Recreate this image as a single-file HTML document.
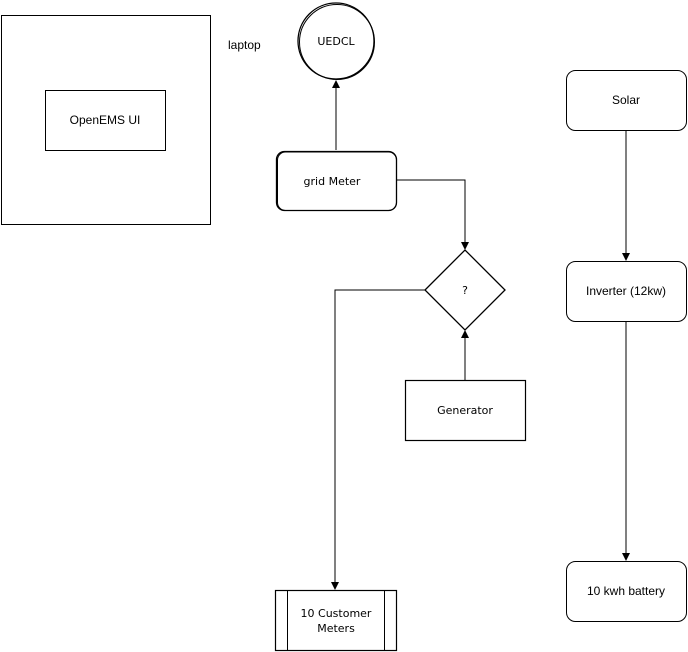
<!DOCTYPE html>
<html><head><meta charset="utf-8"><style>
html,body{margin:0;padding:0;background:#fff;}
svg{display:block;}
text{font-family:"Liberation Sans",sans-serif;font-size:12px;fill:#000;}
.h{font-family:"Comic Sans MS","DejaVu Sans",sans-serif;font-size:11px;}
</style></head><body>
<svg width="688" height="652" viewBox="0 0 688 652" xmlns="http://www.w3.org/2000/svg">
<defs><marker id="a" markerWidth="8" markerHeight="8" refX="7" refY="4" orient="auto" markerUnits="userSpaceOnUse"><path d="M0,0 L8,4 L0,8 Z" fill="#000"/></marker></defs>
<g fill="none" stroke="#000" stroke-width="1">
<rect x="1.5" y="15.5" width="209" height="209"/>
<rect x="45.5" y="90.5" width="120" height="60"/>
<circle cx="336" cy="41" r="38" stroke-width="1.3"/>
<circle cx="337" cy="42" r="37.5"/>
<line x1="336" y1="150" x2="336" y2="81" marker-end="url(#a)"/>
<rect x="276.5" y="151.5" width="120" height="59" rx="8" stroke-width="1.3"/>
<rect x="277.5" y="152" width="119" height="58.5" rx="8"/>
<polyline points="397,180 465,180 465,249" marker-end="url(#a)"/>
<polygon points="425,290 465,250 505,290 465,330" stroke-width="1.3"/>
<line x1="465" y1="380" x2="465" y2="331" marker-end="url(#a)"/>
<rect x="405.5" y="380.5" width="120" height="60" stroke-width="1.2"/>
<polyline points="425,290 335,290 335,589" marker-end="url(#a)"/>
<rect x="275.5" y="590.5" width="121" height="60" stroke-width="1.2"/>
<line x1="287.5" y1="590" x2="287.5" y2="651"/>
<line x1="384.5" y1="590" x2="384.5" y2="651"/>
<rect x="566.5" y="70.5" width="120" height="60" rx="9"/>
<rect x="566.5" y="261.5" width="120" height="60" rx="9"/>
<rect x="566.5" y="561.5" width="120" height="60" rx="9"/>
<line x1="626" y1="131" x2="626" y2="260" marker-end="url(#a)"/>
<line x1="626" y1="322" x2="626" y2="560" marker-end="url(#a)"/>
</g>
<text x="105" y="124" text-anchor="middle">OpenEMS UI</text>
<text x="228" y="49">laptop</text>
<text class="h" x="336" y="45" text-anchor="middle">UEDCL</text>
<text class="h" x="332" y="185" text-anchor="middle">grid Meter</text>
<text class="h" x="465" y="294" text-anchor="middle">?</text>
<text class="h" x="465" y="414" text-anchor="middle">Generator</text>
<text class="h" x="336" y="617" text-anchor="middle">10 Customer</text>
<text class="h" x="336" y="632" text-anchor="middle">Meters</text>
<text x="626" y="104" text-anchor="middle">Solar</text>
<text x="626" y="295" text-anchor="middle">Inverter (12kw)</text>
<text x="626" y="595" text-anchor="middle">10 kwh battery</text>
</svg>
</body></html>
